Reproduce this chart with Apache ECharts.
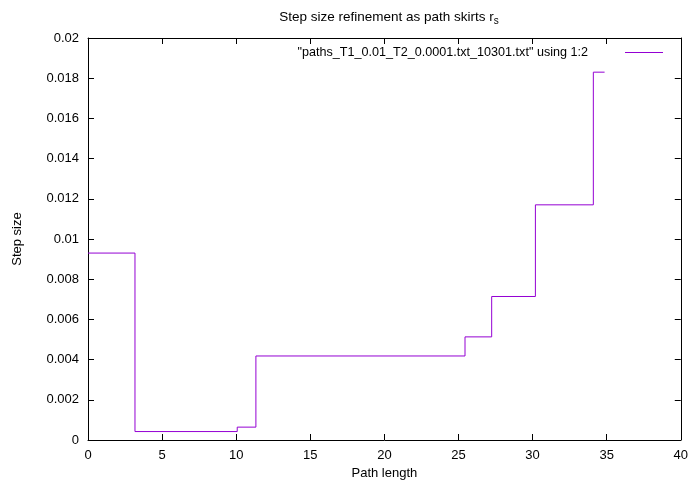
<!DOCTYPE html>
<html>
<head>
<meta charset="utf-8">
<script src="https://cdn.jsdelivr.net/npm/echarts@6/dist/echarts.min.js"></script>
<style>
  html, body { margin: 0; padding: 0; background: #fff; }
  #chart { width: 691px; height: 487px; }
</style>
</head>
<body>
<div id="chart"></div>
<script>
  // path length (x) and step size (y), steps drawn horizontal then vertical
  const pathLength = [0, 3.17, 10.07, 11.33, 25.44, 27.24, 30.19, 34.1, 34.86]
  const stepSize = [0.0093, 0.00042, 0.00064, 0.00418, 0.00513, 0.00714, 0.0117, 0.0183, 0.0183]
  const seriesName = '"paths_T1_0.01_T2_0.0001.txt_10301.txt" using 1:2'

  const font = "Liberation Sans, Arial, sans-serif"
  const lineColor = "#9400d3"

  const tick = { show: true, inside: true, length: 6, lineStyle: { color: "#000", width: 1 } }
  const axisLine = { show: true, onZero: false, lineStyle: { color: "#000", width: 1 } }

  const myChart = echarts.init(document.getElementById("chart"))
  const option = {
    backgroundColor: "#fff",
    animation: false,
    title: {
      text: "Step size refinement as path skirts r{sub|s}",
      left: 384,
      textAlign: "center",
      top: 4,
      textStyle: {
        fontFamily: font,
        fontSize: 13.5,
        fontWeight: "normal",
        color: "#000",
        rich: {
          sub: { fontFamily: font, fontSize: 10, verticalAlign: "bottom", padding: [7, 0, 0, 0], color: "#000" },
        },
      },
    },
    legend: {
      right: 23,
      top: 41,
      align: "right",
      icon: "rect",
      itemWidth: 38,
      itemHeight: 1.2,
      textStyle: { fontFamily: font, fontSize: 12.6, color: "#000", padding: [0, 32, 0, 0] },
      data: [seriesName],
    },
    grid: { left: 88, right: 10, top: 38, bottom: 47, containLabel: false },
    xAxis: [
      {
        type: "value",
        min: 0,
        max: 40,
        interval: 5,
        name: "Path length",
        nameLocation: "middle",
        nameGap: 27,
        nameTextStyle: { fontFamily: font, fontSize: 13, color: "#000" },
        axisLine: axisLine,
        axisTick: tick,
        axisLabel: { fontFamily: font, fontSize: 13, color: "#000", margin: 9 },
        splitLine: { show: false },
      },
      {
        type: "value",
        position: "top",
        min: 0,
        max: 40,
        interval: 5,
        axisLine: axisLine,
        axisTick: tick,
        axisLabel: { show: false },
        splitLine: { show: false },
      },
    ],
    yAxis: [
      {
        type: "value",
        min: 0,
        max: 0.02,
        interval: 0.002,
        name: "Step size",
        nameLocation: "middle",
        nameGap: 64,
        nameTextStyle: { fontFamily: font, fontSize: 13, color: "#000" },
        axisLine: axisLine,
        axisTick: tick,
        axisLabel: { fontFamily: font, fontSize: 13, color: "#000", margin: 9 },
        splitLine: { show: false },
      },
      {
        type: "value",
        position: "right",
        min: 0,
        max: 0.02,
        interval: 0.002,
        axisLine: axisLine,
        axisTick: tick,
        axisLabel: { show: false },
        splitLine: { show: false },
      },
    ],
    series: [
      {
        name: seriesName,
        type: "line",
        step: "end",
        showSymbol: false,
        symbol: "none",
        itemStyle: { color: lineColor },
        lineStyle: { color: lineColor, width: 1 },
        data: pathLength.map((x, i) => [x, stepSize[i]]),
      },
    ],
  }
  myChart.setOption(option)
</script>
</body>
</html>
